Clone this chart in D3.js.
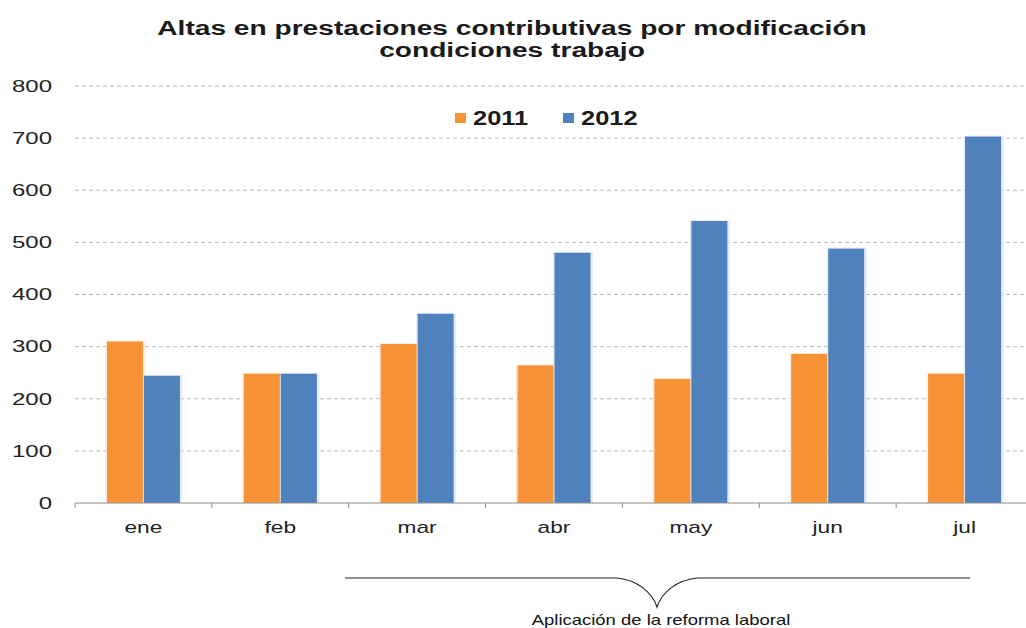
<!DOCTYPE html>
<html><head><meta charset="utf-8">
<script src="https://cdn.jsdelivr.net/npm/d3@7"></script>
<style>body{margin:0;background:#fff;}svg{display:block;}</style>
</head><body><svg id="c" width="1026" height="628"></svg>
<script>
const months = ["ene","feb","mar","abr","may","jun","jul"];
const seriesNames = ["2011","2012"];
const values2011 = [310,248,305,264,238,286,248];
const values2012 = [244,248,363,480,541,488,703];
const yTicks = [0,100,200,300,400,500,600,700,800];
const titleLines = ["Altas en prestaciones contributivas por modificación","condiciones trabajo"];
const annotation = "Aplicación de la reforma laboral";
const colors = ["#f79237","#4f81bd"];

(function(){
const svg = d3.select("#c");
const FONT = "Liberation Sans, Arial, sans-serif";
const mLeft = 75, mRight = 1033, mTop = 86, mBottom = 503;
const x = d3.scaleBand().domain(months).range([mLeft,mRight]).paddingInner(0).paddingOuter(0);
const y = d3.scaleLinear().domain([0,800]).range([mBottom,mTop]);
const barW = 37;
const xs = d3.scaleBand().domain(seriesNames).range([0,barW*2]);

// grid
svg.append("g").selectAll("line").data(yTicks.filter(d=>d>0)).join("line")
  .attr("x1",mLeft).attr("x2",1024).attr("y1",d=>y(d)).attr("y2",d=>y(d))
  .attr("stroke","#b8b8b8").attr("stroke-width",1).attr("stroke-dasharray","4,3");

// y labels (horizontally stretched like the reference)
svg.append("g").selectAll("text").data(yTicks).join("text")
  .attr("transform",d=>`translate(52,${y(d)}) scale(1.5,1)`).attr("dy","0.36em").attr("text-anchor","end")
  .attr("font-family",FONT).attr("font-size",16).attr("fill","#222")
  .text(d=>d);

// bars
const data = months.map((m,i)=>({m, vals:[values2011[i],values2012[i]]}));
const g = svg.append("g").selectAll("g").data(data).join("g")
  .attr("transform",d=>`translate(${x(d.m)+x.bandwidth()/2-barW},0)`);
g.selectAll("rect.sh").data(d=>d.vals.map((v,j)=>({v,s:seriesNames[j],j}))).join("rect")
  .attr("class","sh")
  .attr("x",d=>xs(d.s)-1).attr("y",d=>y(d.v)-1).attr("width",barW+3).attr("height",d=>y(0)-y(d.v)+1)
  .attr("fill",d=>d.j===0?"#fde8d4":"#dce6f2").attr("opacity",0.7);
g.selectAll("rect.b").data(d=>d.vals.map((v,j)=>({v,s:seriesNames[j],j}))).join("rect")
  .attr("class","b")
  .attr("x",d=>xs(d.s)+0.5).attr("y",d=>y(d.v)).attr("width",barW-1).attr("height",d=>y(0)-y(d.v))
  .attr("fill",d=>colors[d.j]);

// x axis
const xAxis = d3.axisBottom(x).tickSize(0).tickPadding(0).tickFormat("");
const ax = svg.append("g").attr("transform",`translate(0,${mBottom})`).call(xAxis);
ax.select(".domain").attr("stroke","#8c8c8c").attr("d",`M${mLeft},0H1026`);
svg.append("g").selectAll("text").data(months).join("text")
  .attr("transform",d=>`translate(${x(d)+x.bandwidth()/2},533) scale(1.42,1)`).attr("text-anchor","middle")
  .attr("font-family",FONT).attr("font-size",16).attr("fill","#222").text(d=>d);
svg.append("g").selectAll("line").data(months.map(m=>x(m))).join("line")
  .attr("x1",d=>d).attr("x2",d=>d).attr("y1",mBottom).attr("y2",mBottom+5)
  .attr("stroke","#8c8c8c");

// title
svg.append("g").selectAll("text").data(titleLines).join("text")
  .attr("transform",(d,i)=>`translate(512,${35+i*22}) scale(1.34,1)`).attr("text-anchor","middle")
  .attr("font-family",FONT).attr("font-weight","bold")
  .attr("font-size",21).attr("fill","#1a1a1a").text(d=>d);

// legend
const legX = [455,563];
const lg = svg.append("g").selectAll("g").data(seriesNames).join("g")
  .attr("transform",(d,i)=>`translate(${legX[i]},118)`);
lg.append("rect").attr("x",0).attr("y",-5).attr("width",11).attr("height",10).attr("fill",(d,i)=>colors[i]);
lg.append("text").attr("transform","translate(18,0) scale(1.27,1)").attr("dy","0.36em")
  .attr("font-family",FONT).attr("font-weight","bold").attr("font-size",20)
  .attr("fill","#1a1a1a").text(d=>d);

// annotation brace
svg.append("path")
  .attr("d","M345,578H617C637,580 652,592 657,607C662,592 677,580 697,578H970")
  .attr("fill","none").attr("stroke","#222").attr("stroke-width",1.2);
svg.append("text").attr("transform","translate(661,625) scale(1.32,1)").attr("text-anchor","middle")
  .attr("font-family",FONT).attr("font-size",14).attr("fill","#111")
  .text(annotation);
})();
</script></body></html>
